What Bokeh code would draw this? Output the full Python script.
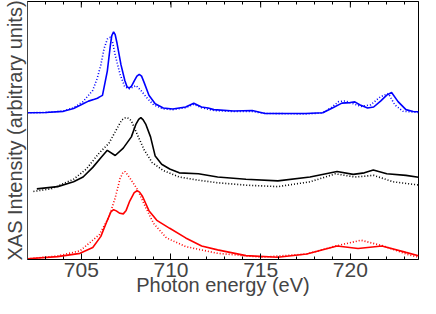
import math
from bokeh.plotting import figure
from bokeh.models import LinearAxis, FixedTicker, Range1d
from bokeh.embed import file_html
from bokeh.resources import INLINE

# ---- data (photon energy in eV, intensity in arbitrary units) ----
blue_solid_e = [702.0, 703.0, 704.0, 704.57, 705.1, 705.4, 705.73, 705.9, 706.0, 706.18, 706.45,
                706.62, 706.7, 706.8, 706.89, 706.98, 707.21, 707.43, 707.55, 707.66, 707.8,
                707.96, 708.1, 708.23, 708.36, 708.5, 708.77, 709.12, 709.57,
                710.1, 710.82, 711.27, 711.7, 712.07, 712.39, 713.5, 714.53, 715.25, 716.5,
                717.5, 718.46, 719.0, 719.53, 720.0, 720.25, 720.52, 720.96, 721.3, 721.7,
                722.03, 722.3, 722.66, 723.1, 723.5, 723.8]
blue_solid_i = [152.4, 152.7, 153.9, 156.9, 161.7, 164.5, 166.4, 167.5, 168.7, 170.5, 195.7,
                222.4, 232.5, 236.4, 233.5, 225.7, 202.4, 185.7, 179.5, 178.0, 180.0,
                185.7, 190.5, 192.4, 190.5, 184.0, 170.7, 161.7, 157.4,
                156.4, 158.4, 162.4, 158.4, 157.4, 155.7, 154.2, 154.7, 151.7, 151.7,
                151.7, 152.4, 157.4, 162.4, 163.0, 163.7, 160.7, 157.4, 158.4, 164.7,
                170.7, 173.4, 164.0, 155.7, 153.7, 153.4]

blue_dot_e = [702.0, 703.0, 704.0, 704.57, 705.1, 705.64, 705.9, 706.09, 706.27, 706.45, 706.54,
              706.62, 706.75, 706.89, 707.16, 707.43, 707.7, 708.05, 708.32, 708.68, 709.03,
              709.57, 710.1, 710.82, 711.27, 711.7, 712.39, 713.5, 714.53, 715.25, 717.5,
              718.46, 719.0, 719.35, 719.7, 720.07, 720.6, 721.14, 721.67, 722.12, 722.48,
              722.93, 723.8]
blue_dot_i = [152.4, 152.7, 154.2, 157.7, 164.0, 175.7, 189.0, 202.4, 219.0, 229.0, 230.5,
              230.7, 225.0, 212.4, 192.4, 179.0, 177.4, 180.7, 175.7, 167.4, 160.7,
              156.4, 155.7, 157.7, 161.2, 157.7, 154.7, 153.7, 153.7, 151.7, 151.2,
              152.2, 158.7, 164.0, 164.7, 162.4, 159.0, 160.7, 169.0, 172.4, 160.7,
              154.0, 152.7]

black_solid_e = [702.52, 703.68, 704.57, 705.1, 705.64, 706.09, 706.45, 706.89, 707.34, 707.79,
                 708.05, 708.2, 708.32, 708.45, 708.59, 708.86, 709.12, 709.48, 709.93, 710.46,
                 711.53, 712.6, 714.18, 715.96, 717.75, 719.26, 720.16, 720.78, 721.28, 722.03,
                 723.1, 723.8]
black_solid_i = [73.4, 75.7, 80.7, 85.7, 95.7, 105.7, 113.4, 108.0, 115.7, 127.4,
                 140.7, 145.5, 147.4, 145.0, 140.7, 127.4, 107.4, 99.0, 94.0, 90.0,
                 89.0, 85.7, 83.4, 81.7, 85.7, 91.4, 88.4, 90.0, 93.0, 89.0,
                 87.4, 85.4]

black_dot_e = [702.33, 703.32, 704.57, 705.28, 706.0, 706.54, 706.98, 707.25, 707.4, 707.52,
               707.65, 707.79, 708.14, 708.5, 708.95, 709.57, 710.46, 711.53, 712.6, 714.2,
               715.96, 717.75, 719.17, 720.25, 721.3, 722.39, 723.8]
black_dot_i = [70.7, 73.4, 83.4, 94.0, 110.7, 120.7, 135.7, 144.7, 146.8, 147.4,
               146.5, 144.0, 129.0, 114.0, 100.7, 92.4, 85.7, 82.4, 79.7, 77.2,
               75.7, 80.7, 89.0, 85.7, 87.4, 80.7, 77.4]

red_solid_e = [702.0, 703.68, 704.93, 705.64, 706.09, 706.45, 706.65, 706.8, 706.95, 707.15,
               707.34, 707.5, 707.7, 707.95, 708.11, 708.25, 708.41, 708.77, 709.21, 709.93,
               710.82, 711.71, 712.6, 714.18, 715.96, 717.57, 719.26, 720.43, 721.76, 723.1,
               723.8]
red_solid_i = [0.7, 3.0, 6.4, 12.4, 24.0, 40.7, 49.5, 51.7, 50.5, 48.0,
               47.4, 51.0, 60.7, 69.5, 71.4, 70.0, 65.7, 50.7, 40.7, 32.4,
               22.4, 14.0, 10.0, 4.0, 2.4, 5.7, 14.0, 11.4, 14.0, 7.4,
               4.0]

red_dot_e = [702.0, 703.68, 704.93, 706.0, 706.54, 706.89, 707.16, 707.3, 707.43, 707.58,
             707.79, 708.14, 708.59, 709.03, 709.75, 710.82, 712.6, 715.07, 717.57, 719.17,
             720.6, 721.85, 723.1, 723.8]
red_dot_i = [0.7, 3.7, 9.0, 25.7, 44.0, 64.0, 84.0, 89.5, 91.4, 88.0,
             82.4, 72.4, 54.0, 37.4, 22.4, 13.4, 6.4, 2.4, 5.7, 14.0,
             20.0, 14.0, 5.7, 2.4]

major_ticks = [705, 710, 715, 720]
minor_ticks = [703, 704, 706, 707, 708, 709, 711, 712, 713, 714, 716, 717, 718, 719, 721, 722, 723]
x_label = "Photon energy (eV)"
y_label = "XAS Intensity (arbitrary units)"

FONT = "Liberation Sans"
Y_TOP = 268

p = figure(width=420, height=298, output_backend="svg", toolbar_location=None,
           x_range=Range1d(702.0, 723.8), y_range=Range1d(0, Y_TOP),
           min_border_left=0, min_border_right=2, min_border_top=1, min_border_bottom=0)
p.grid.visible = False
p.background_fill_color = "white"
p.border_fill_color = "white"
p.outline_line_color = "black"
p.outline_line_width = 1

xa = p.xaxis[0]
xa.ticker = FixedTicker(ticks=major_ticks, minor_ticks=minor_ticks)
xa.axis_label = x_label
xa.axis_label_text_font = FONT
xa.axis_label_text_font_style = "normal"
xa.axis_label_text_font_size = "20px"
xa.axis_label_standoff = -6
xa.major_label_text_font = FONT
xa.major_label_text_font_size = "21px"
xa.major_label_standoff = 3
xa.major_tick_in = 6
xa.major_tick_out = 0
xa.minor_tick_in = 3
xa.minor_tick_out = 0
xa.axis_line_color = "black"

# top axis: ticks only (no labels); major ticks drawn as longer marks below
top = LinearAxis(ticker=FixedTicker(ticks=[], minor_ticks=minor_ticks + major_ticks),
                 major_tick_in=0, major_tick_out=0, minor_tick_in=3, minor_tick_out=0,
                 axis_line_color="black")
p.add_layout(top, "above")
p.scatter(major_ticks, [Y_TOP] * len(major_ticks), marker="dash", angle=math.pi / 2,
          size=12, line_color="black", line_width=1)

ya = p.yaxis[0]
ya.ticker = FixedTicker(ticks=[])
ya.axis_label = y_label
ya.axis_label_text_font = FONT
ya.axis_label_text_font_style = "normal"
ya.axis_label_text_font_size = "20px"
ya.axis_label_standoff = 2
ya.major_tick_in = 0
ya.major_tick_out = 0
ya.minor_tick_in = 0
ya.minor_tick_out = 0
ya.axis_line_color = "#444444"

LW = 1.6
DOT = "1 2"
p.line(blue_dot_e, blue_dot_i, line_color="#0000ff", line_width=LW, line_dash=DOT)
p.line(blue_solid_e, blue_solid_i, line_color="#0000ff", line_width=LW)
p.line(black_dot_e, black_dot_i, line_color="black", line_width=LW, line_dash=DOT)
p.line(black_solid_e, black_solid_i, line_color="black", line_width=LW)
p.line(red_dot_e, red_dot_i, line_color="#ff0000", line_width=LW, line_dash=DOT)
p.line(red_solid_e, red_solid_i, line_color="#ff0000", line_width=LW)

open("out.html", "w").write(file_html(p, INLINE))
